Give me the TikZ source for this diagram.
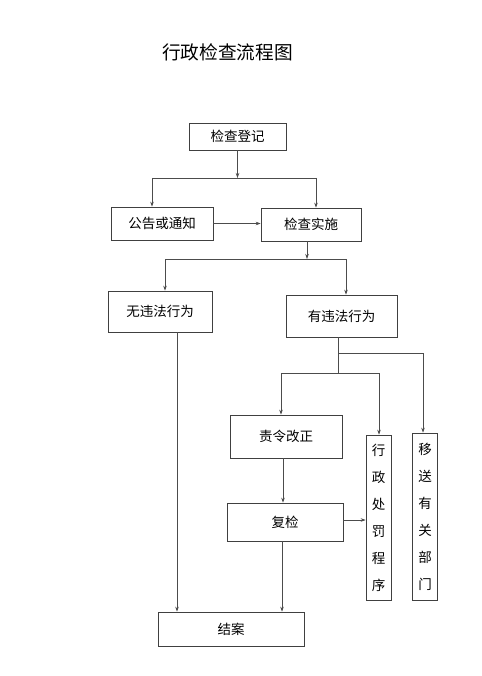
\documentclass[tikz,border=0pt]{standalone}
\usepackage{fontspec}
\setmainfont{Noto Sans CJK SC}
\usetikzlibrary{arrows.meta, positioning}

\begin{document}
\begin{tikzpicture}[x=1pt, y=-1pt,
        box/.style={draw=black!75, line width=0.7pt, inner sep=0pt, font=\fontsize{13.5}{16}\selectfont},
        vbox/.style={box, minimum width=25, align=center, font=\fontsize{13.5}{27}\selectfont},
        link/.style={draw=black!70, line width=0.6pt},
        arr/.style={link, -{Stealth[length=5pt, width=3.5pt]}}]
        \useasboundingbox (0,0) rectangle (481,676);

        \node[font=\fontsize{18.7}{22}\selectfont] (title) at (227.5,52) {行政检查流程图};

        \node[box, minimum width=97, minimum height=27] (djdj) at (237.5,136.5) {检查登记};
        \node[box, minimum width=102, minimum height=33] (gg) at (162,223.5) {公告或通知};
        \node[box, minimum width=100, minimum height=33] (ss) at (311,224.5) {检查实施};
        \node[box, minimum width=104, minimum height=41] (wu) at (160,311.5) {无违法行为};
        \node[box, minimum width=111, minimum height=42] (yw) at (341.5,316) {有违法行为};
        \node[box, minimum width=112, minimum height=43] (zl) at (286,436.5) {责令改正};
        \node[box, minimum width=116, minimum height=38] (fj) at (285,522) {复检};
        \node[vbox, minimum height=165] (xz) at (378.5,517.5) {行\\政\\处\\罚\\程\\序};
        \node[vbox, minimum height=167] (yd) at (425,516.5) {移\\送\\有\\关\\部\\门};
        \node[box, minimum width=146, minimum height=34] (ja) at (231,629) {结案};

        % branch points
        \coordinate (s1) at (237.5,178);
        \coordinate (s1l) at (152,178);
        \coordinate (s1r) at (316,178);
        \coordinate (s2) at (307,259);
        \coordinate (s2l) at (165,259);
        \coordinate (s2r) at (346,259);
        \coordinate (s3) at (338,353);
        \coordinate (s3r) at (423,353);
        \coordinate (s4) at (338,373);
        \coordinate (s4l) at (281,373);
        \coordinate (s4r) at (379,373);
        \coordinate (c1) at (177,0);

        \draw[arr] (djdj) -- (s1);
        \draw[link] (s1l) -- (s1r);
        \draw[arr] (s1l) -- (s1l |- gg.north);
        \draw[arr] (s1r) -- (s1r |- ss.north);
        \draw[arr] (gg.east) -- (gg.east -| ss.west);

        \draw[arr] (s2 |- ss.south) -- (s2);
        \draw[link] (s2l) -- (s2r);
        \draw[arr] (s2l) -- (s2l |- wu.north);
        \draw[arr] (s2r) -- (s2r |- yw.north);

        \draw[link] (s3 |- yw.south) -- (s4);
        \draw[arr] (s3) -| (s3r |- yd.north);
        \draw[link] (s4l) -- (s4r);
        \draw[arr] (s4l) -- (s4l |- zl.north);
        \draw[arr] (s4r) -- (s4r |- xz.north);

        \draw[arr] ([xshift=-3pt]zl.south) -- ([xshift=-3pt]zl.south |- fj.north);
        \draw[arr] ([yshift=2pt]fj.east) -- ([yshift=2pt]fj.east -| xz.west);
        \draw[arr] ([xshift=-3pt]fj.south) -- ([xshift=-3pt]fj.south |- ja.north);
        \draw[arr] (c1 |- wu.south) -- (c1 |- ja.north);
\end{tikzpicture}
\end{document}
